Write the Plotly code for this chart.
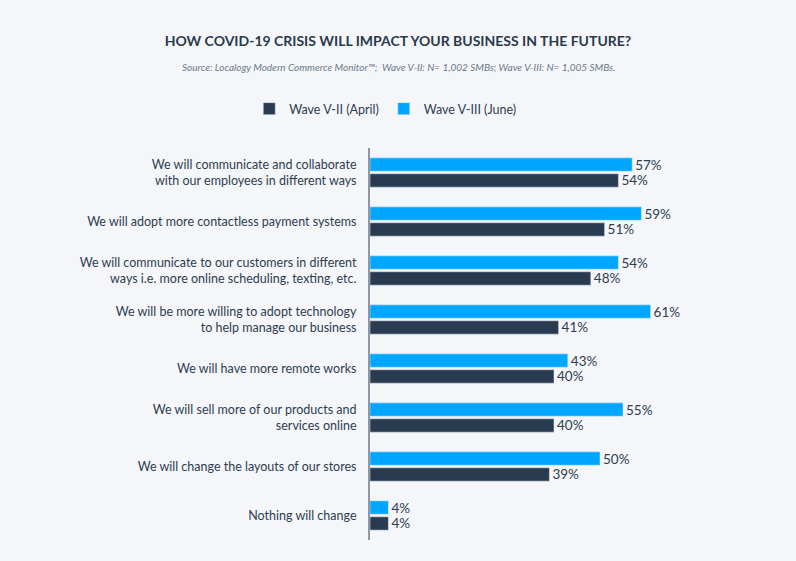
import plotly.graph_objects as go

categories = [
    "We will communicate and collaborate<br>with our employees in different ways",
    "We will adopt more contactless payment systems",
    "We will communicate to our customers in different<br>ways i.e. more online scheduling, texting, etc.",
    "We will be more willing to adopt technology<br>to help manage our business",
    "We will have more remote works",
    "We will sell more of our products and<br>services online",
    "We will change the layouts of our stores",
    "Nothing will change",
]
wave_april = [54, 51, 48, 41, 40, 40, 39, 4]
wave_june = [57, 59, 54, 61, 43, 55, 50, 4]

dark = '#283B50'
blue = '#00A6FF'
text_color = '#2E3D4F'

fig = go.Figure()
fig.add_trace(go.Bar(
    y=categories, x=wave_april, orientation='h', name='Wave V-II (April)',
    marker_color=dark, texttemplate='%{x}%', textposition='outside',
    constraintext='none', textfont=dict(size=13.5, color=text_color), cliponaxis=False
))
fig.add_trace(go.Bar(
    y=categories, x=wave_june, orientation='h', name='Wave V-III (June)',
    marker_color=blue, texttemplate='%{x}%', textposition='outside',
    constraintext='none', textfont=dict(size=13.5, color=text_color), cliponaxis=False
))

fig.update_layout(
    width=796, height=561,
    paper_bgcolor='#F4F6FA', plot_bgcolor='#F4F6FA',
    font=dict(family='Source Sans Pro, Lato, sans-serif', color=text_color, size=12),
    barmode='group', bargap=0.35, bargroupgap=0.16,
    margin=dict(l=370, r=58, t=148, b=21),
    title=dict(
        text='<b>HOW COVID-19 CRISIS WILL IMPACT YOUR BUSINESS IN THE FUTURE?</b>',
        x=0.5, xanchor='center', y=1 - 41 / 561, yanchor='middle',
        font=dict(size=14, color='#2B3A4B')
    ),
    legend=dict(
        orientation='h', xref='container', yref='container',
        x=0.484, xanchor='center', y=1 - 109 / 561, yanchor='middle',
        font=dict(size=12.5, color=text_color), itemwidth=30
    ),
    xaxis=dict(range=[0, 80], visible=False, fixedrange=True),
    yaxis=dict(
        categoryorder='array', categoryarray=categories[::-1],
        showline=True, linecolor='#8E97A3', linewidth=2,
        showgrid=False, ticks='', ticklabelstandoff=9,
        tickfont=dict(size=12.5, color=text_color)
    ),
    annotations=[dict(
        text='<i>Source: Localogy Modern Commerce Monitor™;  Wave V-II: N= 1,002 SMBs; Wave V-III: N= 1,005 SMBs.</i>',
        xref='paper', yref='paper', x=(398 - 370) / 368, xanchor='center',
        y=1 + (148 - 67) / 392, yanchor='middle', showarrow=False,
        font=dict(size=10, color='#6D7A8A')
    )],
)

fig.write_html("out.html", config={'displayModeBar': False},
               post_script="document.body.style.margin='0';")
